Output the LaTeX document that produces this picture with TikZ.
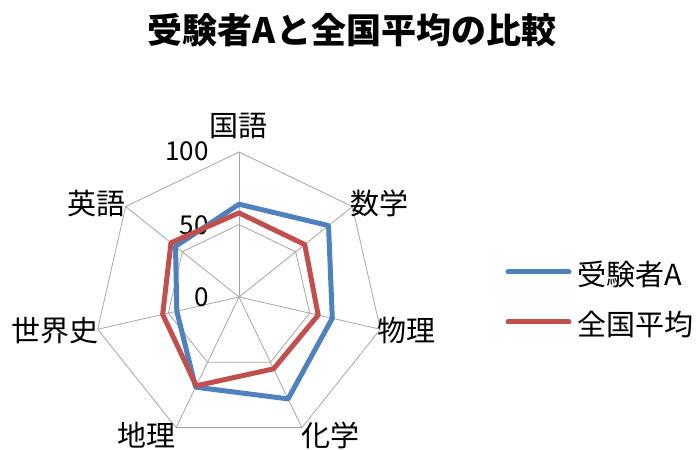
\documentclass[tikz,border=0pt]{standalone}
\usepackage{fontspec}
\setmainfont{Noto Sans CJK JP}
\usepackage{tikz}
\usetikzlibrary{calc}

\definecolor{seriesA}{RGB}{79,129,189}
\definecolor{seriesB}{RGB}{192,80,77}
\definecolor{gridline}{RGB}{165,165,165}

\tikzset{
  axislabel/.style={font=\fontsize{29}{29}\selectfont, inner sep=0pt, text height=25pt, text depth=4pt},
  ticklabel/.style={font=\fontsize{26}{26}\selectfont, anchor=east, inner sep=0pt, text height=19pt, text depth=0pt},
  grid/.style={gridline, line width=0.8pt},
  radar/.style={line width=5pt, line join=round},
}

\begin{document}
\begin{tikzpicture}[x=1pt,y=1pt]
        \useasboundingbox (-239,-153) rectangle (458,297);

        \node[font=\bfseries\fontsize{35}{35}\selectfont, inner sep=0pt, text height=31pt, text depth=4pt] (title) at (113,267) {受験者Aと全国平均の比較};

        % grid rings and spokes
        \coordinate (O) at (0,0);
        \foreach \i in {0,...,6} {
            \coordinate (v\i) at ({90-\i*360/7}:145);
            \coordinate (h\i) at ({90-\i*360/7}:72.5);
        }
        \draw[grid] (v0) -- (v1) -- (v2) -- (v3) -- (v4) -- (v5) -- (v6) -- cycle;
        \draw[grid] (h0) -- (h1) -- (h2) -- (h3) -- (h4) -- (h5) -- (h6) -- cycle;
        \foreach \i in {0,...,6}
            \draw[grid] (O) -- (v\i);

        \node[ticklabel] (t0) at (-30,0) {0};
        \node[ticklabel] (t50) at (-30,72) {50};
        \node[ticklabel] (t100) at (-30,146) {100};

        \node[axislabel] (kokugo) at (0,171) {国語};
        \node[axislabel] (sugaku) at (141,93) {数学};
        \node[axislabel] (butsuri) at (168,-34) {物理};
        \node[axislabel] (kagaku) at (92,-139) {化学};
        \node[axislabel] (chiri) at (-92,-139) {地理};
        \node[axislabel] (sekaishi) at (-184,-34) {世界史};
        \node[axislabel] (eigo) at (-142,93) {英語};

        % scores
        \foreach \v [count=\i from 0] in {64,79,66,78,69,44,56}
            \coordinate (a\i) at ({90-\i*360/7}:{1.45*\v});
        \foreach \v [count=\i from 0] in {58,58,56,55,68,54,60}
            \coordinate (b\i) at ({90-\i*360/7}:{1.45*\v});
        \draw[radar, seriesA] (a0) -- (a1) -- (a2) -- (a3) -- (a4) -- (a5) -- (a6) -- cycle;
        \draw[radar, seriesB] (b0) -- (b1) -- (b2) -- (b3) -- (b4) -- (b5) -- (b6) -- cycle;

        % legend
        \node[axislabel, anchor=west] (legA) at (338,22) {受験者A};
        \node[axislabel, anchor=west] (legB) at (338,-28) {全国平均};
        \coordinate (keyA) at (269,25);
        \coordinate (keyB) at (269,-25);
        \draw[radar, seriesA, line cap=round] (keyA) -- ($(keyA)+(61,0)$);
        \draw[radar, seriesB, line cap=round] (keyB) -- ($(keyB)+(61,0)$);

    \end{tikzpicture}
\end{document}
